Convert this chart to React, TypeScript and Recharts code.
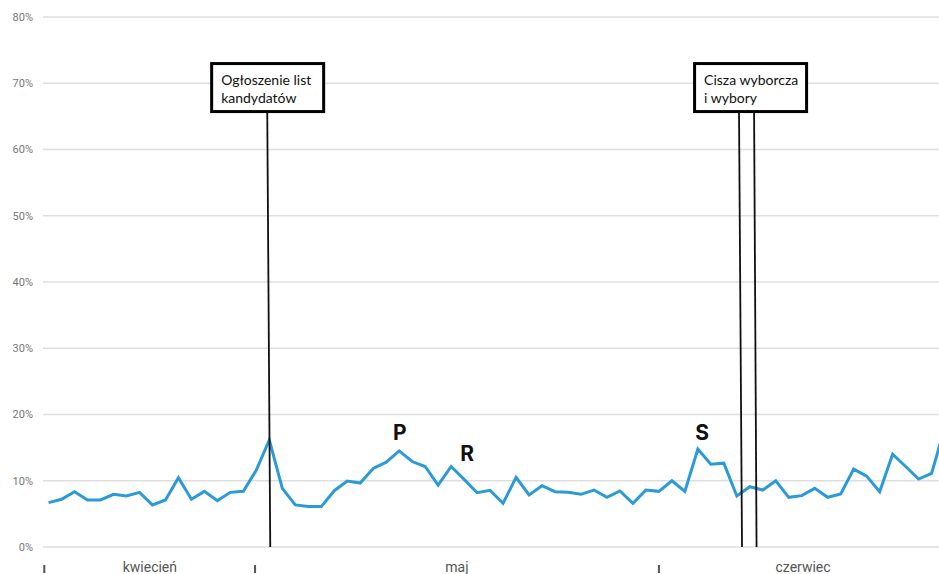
import { LineChart, Line, XAxis, YAxis, CartesianGrid, ReferenceLine, ReferenceDot } from 'recharts';

// daily share (%), from mid-April to late June
const shares = [
    6.7, 7.2, 8.35, 7.1, 7.1, 7.95, 7.7, 8.25, 6.35, 7.1,
    10.45, 7.2, 8.4, 7.0, 8.25, 8.4, 11.6, 16.15, 8.85, 6.35,
    6.1, 6.1, 8.5, 9.95, 9.65, 11.85, 12.8, 14.5, 12.9, 12.15,
    9.35, 12.15, 10.2, 8.2, 8.55, 6.6, 10.5, 7.85, 9.25, 8.35,
    8.25, 7.95, 8.6, 7.5, 8.45, 6.6, 8.6, 8.4, 10.0, 8.4,
    14.8, 12.5, 12.65, 7.7, 9.1, 8.6, 10.0, 7.5, 7.75, 8.85,
    7.5, 8.0, 11.75, 10.7, 8.35, 14.0, 12.15, 10.25, 11.1, 17.9,
];

const yTicks = [0, 10, 20, 30, 40, 50, 60, 70, 80];

const monthNames = ['kwiecień', 'maj', 'czerwiec'];
const monthStarts = [-0.33, 15.9, 47];
const monthCenters = [7.8, 31.45, 58.1];

// event markers (vertical lines drawn from the box down to the axis)
const eventTop = 65.5;
const eventLines = [
    { top: 16.84, bottom: 17.07 },
    { top: 53.17, bottom: 53.4 },
    { top: 54.33, bottom: 54.52 },
];
const eventBoxes = [
    { x: 16.87, lines: ['Ogłoszenie list', 'kandydatów'] },
    { x: 54.06, lines: ['Cisza wyborcza', 'i wybory'] },
];

const letters = [
    { label: 'P', x: 27.05, y: 16.15 },
    { label: 'R', x: 32.23, y: 12.98 },
    { label: 'S', x: 50.32, y: 16.15 },
];

const data = shares.map((v, i) => ({ day: i, share: v }));

const MonthTick = (props: any) => {
    const { x, y, payload } = props;
    if (monthStarts.includes(payload.value)) {
        return <rect x={x - 1} y={y + 18} width={2} height={8} fill="#555" />;
    }
    const j = monthCenters.indexOf(payload.value);
    return (
        <text x={x} y={y + 24.5} textAnchor="middle" fontFamily="Roboto" fontSize={14} fill="#555">
            {monthNames[j]}
        </text>
    );
};

const EventBox = (props: any) => {
    const { cx, cy, lines } = props;
    const w = 112;
    const h = 48;
    const left = cx - w / 2;
    const top = cy - 1.5 - h;
    return (
        <g>
            <rect x={left} y={top} width={w} height={h} fill="#fff" stroke="#000" strokeWidth={3} />
            {lines.map((t: string, i: number) => (
                <text key={i} x={left + 9.5} y={top + 21 + i * 18} fontFamily="Lato" fontSize={14} fill="#111">
                    {t}
                </text>
            ))}
        </g>
    );
};

const Letter = (props: any) => {
    const { cx, cy, label } = props;
    return (
        <text x={cx} y={cy} textAnchor="middle" fontFamily="Inter" fontWeight={700} fontSize={21} fill="#111">
            {label}
        </text>
    );
};

export default function App() {
    return (
        <div style={{ position: 'absolute', left: 0, top: 0, width: 939, height: 574, background: '#fff' }}>
            <LineChart width={939} height={574} data={data} margin={{ top: 17, right: 0, bottom: 0, left: 0 }}>
                <CartesianGrid vertical={false} stroke="#dedede" strokeWidth={1.5} />
                <XAxis
                    dataKey="day"
                    type="number"
                    domain={[-0.43, 68.57]}
                    allowDataOverflow
                    ticks={[...monthStarts, ...monthCenters]}
                    interval={0}
                    tick={<MonthTick />}
                    tickSize={0}
                    tickMargin={0}
                    tickLine={false}
                    axisLine={false}
                    height={27}
                />
                <YAxis
                    type="number"
                    domain={[0, 80]}
                    ticks={yTicks}
                    interval={0}
                    width={43}
                    tickLine={false}
                    axisLine={false}
                    tickMargin={4}
                    tickFormatter={(v) => `${v}%`}
                    tick={{ fill: '#777', fontSize: 11, fontFamily: 'Roboto' }}
                />
                <Line
                    dataKey="share"
                    stroke="#2b9ad6"
                    strokeWidth={3}
                    dot={false}
                    isAnimationActive={false}
                />
                {eventLines.map((l, i) => (
                    <ReferenceLine
                        key={`ev-${i}`}
                        segment={[{ x: l.top, y: eventTop }, { x: l.bottom, y: 0 }]}
                        stroke="#111"
                        strokeWidth={1.8}
                    />
                ))}
                {eventBoxes.map((b, i) => (
                    <ReferenceDot
                        key={`box-${i}`}
                        x={b.x}
                        y={eventTop}
                        r={0}
                        shape={(p: any) => <EventBox {...p} lines={b.lines} />}
                    />
                ))}
                {letters.map((l, i) => (
                    <ReferenceDot
                        key={`lt-${i}`}
                        x={l.x}
                        y={l.y}
                        r={0}
                        shape={(p: any) => <Letter {...p} label={l.label} />}
                    />
                ))}
            </LineChart>
        </div>
    );
}
